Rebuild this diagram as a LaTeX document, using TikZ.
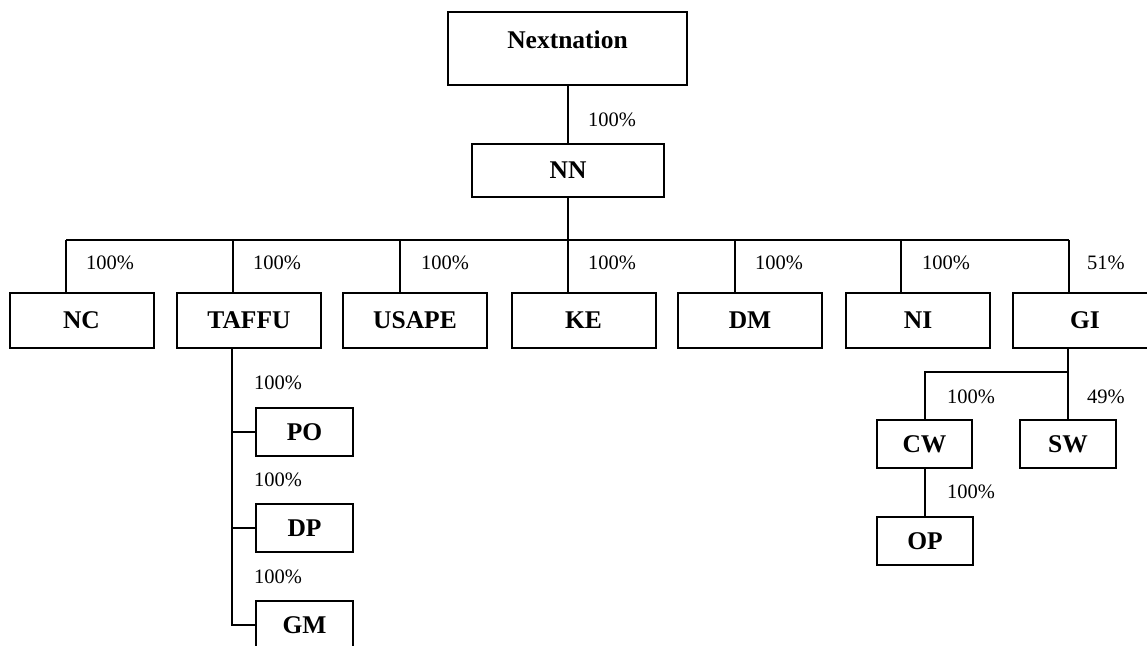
\documentclass[tikz,border=0pt]{standalone}
\usepackage{fontspec}
\setmainfont{Liberation Serif}
\begin{document}
\begin{tikzpicture}[x=1pt,y=-1pt,
  box/.style={draw,line width=2pt,rectangle,inner sep=0pt,font=\fontsize{25.5}{30}\selectfont\bfseries},
  rowbox/.style={box,minimum width=144pt,minimum height=55pt},
  subbox/.style={box,minimum width=96pt,minimum height=48pt},
  pct/.style={anchor=west,inner sep=0pt,font=\fontsize{20.5}{24}\selectfont},
  conn/.style={line width=2pt}]
\useasboundingbox (0,0) rectangle (1147,645);
\clip (0,0) rectangle (1147,645);
% top
\node[box,minimum width=239pt,minimum height=73pt] (Nextnation) at (567.5,48.5) {};
\node[font=\fontsize{25.5}{30}\selectfont\bfseries,inner sep=0pt] (NextnationText) at (567.5,40) {Nextnation};
\node[box,minimum width=192pt,minimum height=53pt] (NN) at (568,170.5) {NN};
% row
\node[rowbox] (NC) at (81.5,320.5) {NC};
\node[rowbox] (TAFFU) at (249,320.5) {TAFFU};
\node[rowbox] (USAPE) at (415,320.5) {USAPE};
\node[rowbox] (KE) at (583.5,320.5) {KE};
\node[rowbox] (DM) at (750,320.5) {DM};
\node[rowbox] (NI) at (918,320.5) {NI};
\node[rowbox] (GI) at (1085,320.5) {GI};
% TAFFU subs
\node[subbox,minimum width=97pt] (PO) at (304.5,432) {PO};
\node[subbox,minimum width=97pt] (DP) at (304.5,528) {DP};
\node[subbox,minimum width=97pt] (GM) at (304.5,625) {GM};
% GI subs
\node[subbox,minimum width=95pt] (CW) at (924.5,444) {CW};
\node[subbox,minimum width=96pt] (SW) at (1068,444) {SW};
\node[subbox,minimum width=96pt] (OP) at (925,541) {OP};
% connectors
\draw[conn] (NN.north) -- (NN.north |- Nextnation.south);
\coordinate (dNC) at (66,240);
\coordinate (dTAFFU) at (233,240);
\coordinate (dUSAPE) at (400,240);
\coordinate (dKE) at (568,240);
\coordinate (dDM) at (735,240);
\coordinate (dNI) at (901,240);
\coordinate (dGI) at (1069,240);
\draw[conn] (NN.south) -- (NN.south |- dKE);
\draw[conn] (dNC) -- (dGI);
\foreach \n in {NC,TAFFU,USAPE,KE,DM,NI,GI}{
  \draw[conn] (d\n) -- (d\n |- \n.north);
}
\coordinate (tx) at (232,0);
\draw[conn] (tx |- TAFFU.south) -- (tx |- GM.west) -- (GM.west);
\draw[conn] (tx |- PO.west) -- (PO.west);
\draw[conn] (tx |- DP.west) -- (DP.west);
\coordinate (gy) at (0,372);
\draw[conn] (SW.north |- GI.south) -- (SW.north);
\draw[conn] (SW.north |- gy) -- (CW.north |- gy) -- (CW.north);
\draw[conn] (CW.south) -- (CW.south |- OP.north);
% labels
\node[pct] (pNN) at (588,120) {100\%};
\node[pct] (pNC) at (86,263) {100\%};
\node[pct] (pTAFFU) at (253,263) {100\%};
\node[pct] (pUSAPE) at (421,263) {100\%};
\node[pct] (pKE) at (588,263) {100\%};
\node[pct] (pDM) at (755,263) {100\%};
\node[pct] (pNI) at (922,263) {100\%};
\node[pct] (pGI) at (1087,263) {51\%};
\node[pct] (pPO) at (254,383) {100\%};
\node[pct] (pDP) at (254,480) {100\%};
\node[pct] (pGM) at (254,577) {100\%};
\node[pct] (pCW) at (947,397) {100\%};
\node[pct] (pSW) at (1087,397) {49\%};
\node[pct] (pOP) at (947,492) {100\%};
\end{tikzpicture}
\end{document}
